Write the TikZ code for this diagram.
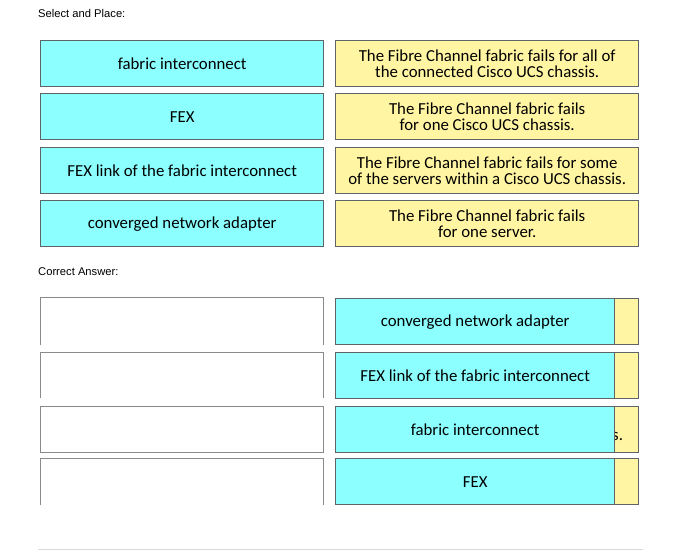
\documentclass[tikz,border=0pt]{standalone}
\usepackage{fontspec}
\setmainfont{Carlito}
\newfontfamily\headfont{Liberation Sans}
\definecolor{itemcyan}{HTML}{8CFFFF}
\definecolor{targetyellow}{HTML}{FFF5A3}
\definecolor{boxgray}{HTML}{5F6468}
\definecolor{linegray}{HTML}{8A8A8A}
\begin{document}
\begin{tikzpicture}[x=1pt, y=-1pt,
        item/.style={rectangle, draw=boxgray, line width=1.4pt, fill=itemcyan, anchor=north west,
          minimum width=283pt, minimum height=46pt, inner sep=0pt, align=center,
          font=\fontsize{16.8}{15.5}\selectfont},
        target/.style={item, fill=targetyellow, minimum width=303pt},
        answer/.style={item, minimum width=279pt},
        slot/.style={item, fill=targetyellow, minimum width=24pt},
        empty/.style={draw=linegray, line width=1pt},
        heading/.style={anchor=west, inner sep=0pt, font=\headfont\fontsize{11.2}{13}\selectfont}
        ]
      \useasboundingbox (0,0) rectangle (680,553);
      \node[heading] (sp) at (38,14) {Select and Place:};
      \node[item] (fi) at (40,40) {fabric interconnect};
      \node[item] (fex) at (40,93) {FEX};
      \node[item] (link) at (40,147) {FEX link of the fabric interconnect};
      \node[item] (cna) at (40,200) {converged network adapter};
      \node[target] (t1) at (335,40) {The Fibre Channel fabric fails for all of\\the connected Cisco UCS chassis.};
      \node[target] (t2) at (335,93) {The Fibre Channel fabric fails\\for one Cisco UCS chassis.};
      \node[target] (t3) at (335,147) {The Fibre Channel fabric fails for some\\of the servers within a Cisco UCS chassis.};
      \node[target] (t4) at (335,200) {The Fibre Channel fabric fails\\for one server.};

      \node[heading] (ca) at (38,272) {Correct Answer:};
      % empty source boxes
      \draw[empty] (40,345) -- (40,298) -- (323,298) -- (323,345);
      \draw[empty] (40,398) -- (40,352) -- (323,352) -- (323,398);
      \draw[empty] (40,406) rectangle (323,452);
      \draw[empty] (40,505) -- (40,458) -- (323,458) -- (323,505);
      % answers
      \node[slot] (s1) at (614,298) {};
      \node[slot] (s2) at (614,352) {};
      \node[slot] (s3) at (614,406) {};
      \node[slot] (s4) at (614,458) {};
      \node[font=\fontsize{16.8}{15.5}\selectfont, anchor=west, inner sep=0pt] (frag) at (612,436) {s.};
      \node[answer] (a1) at (335,298) {converged network adapter};
      \node[answer] (a2) at (335,352) {FEX link of the fabric interconnect};
      \node[answer] (a3) at (335,406) {fabric interconnect};
      \node[answer] (a4) at (335,458) {FEX};

      \draw[black!15, line width=1pt] (38,549) -- (643,549);
    \end{tikzpicture}
\end{document}
